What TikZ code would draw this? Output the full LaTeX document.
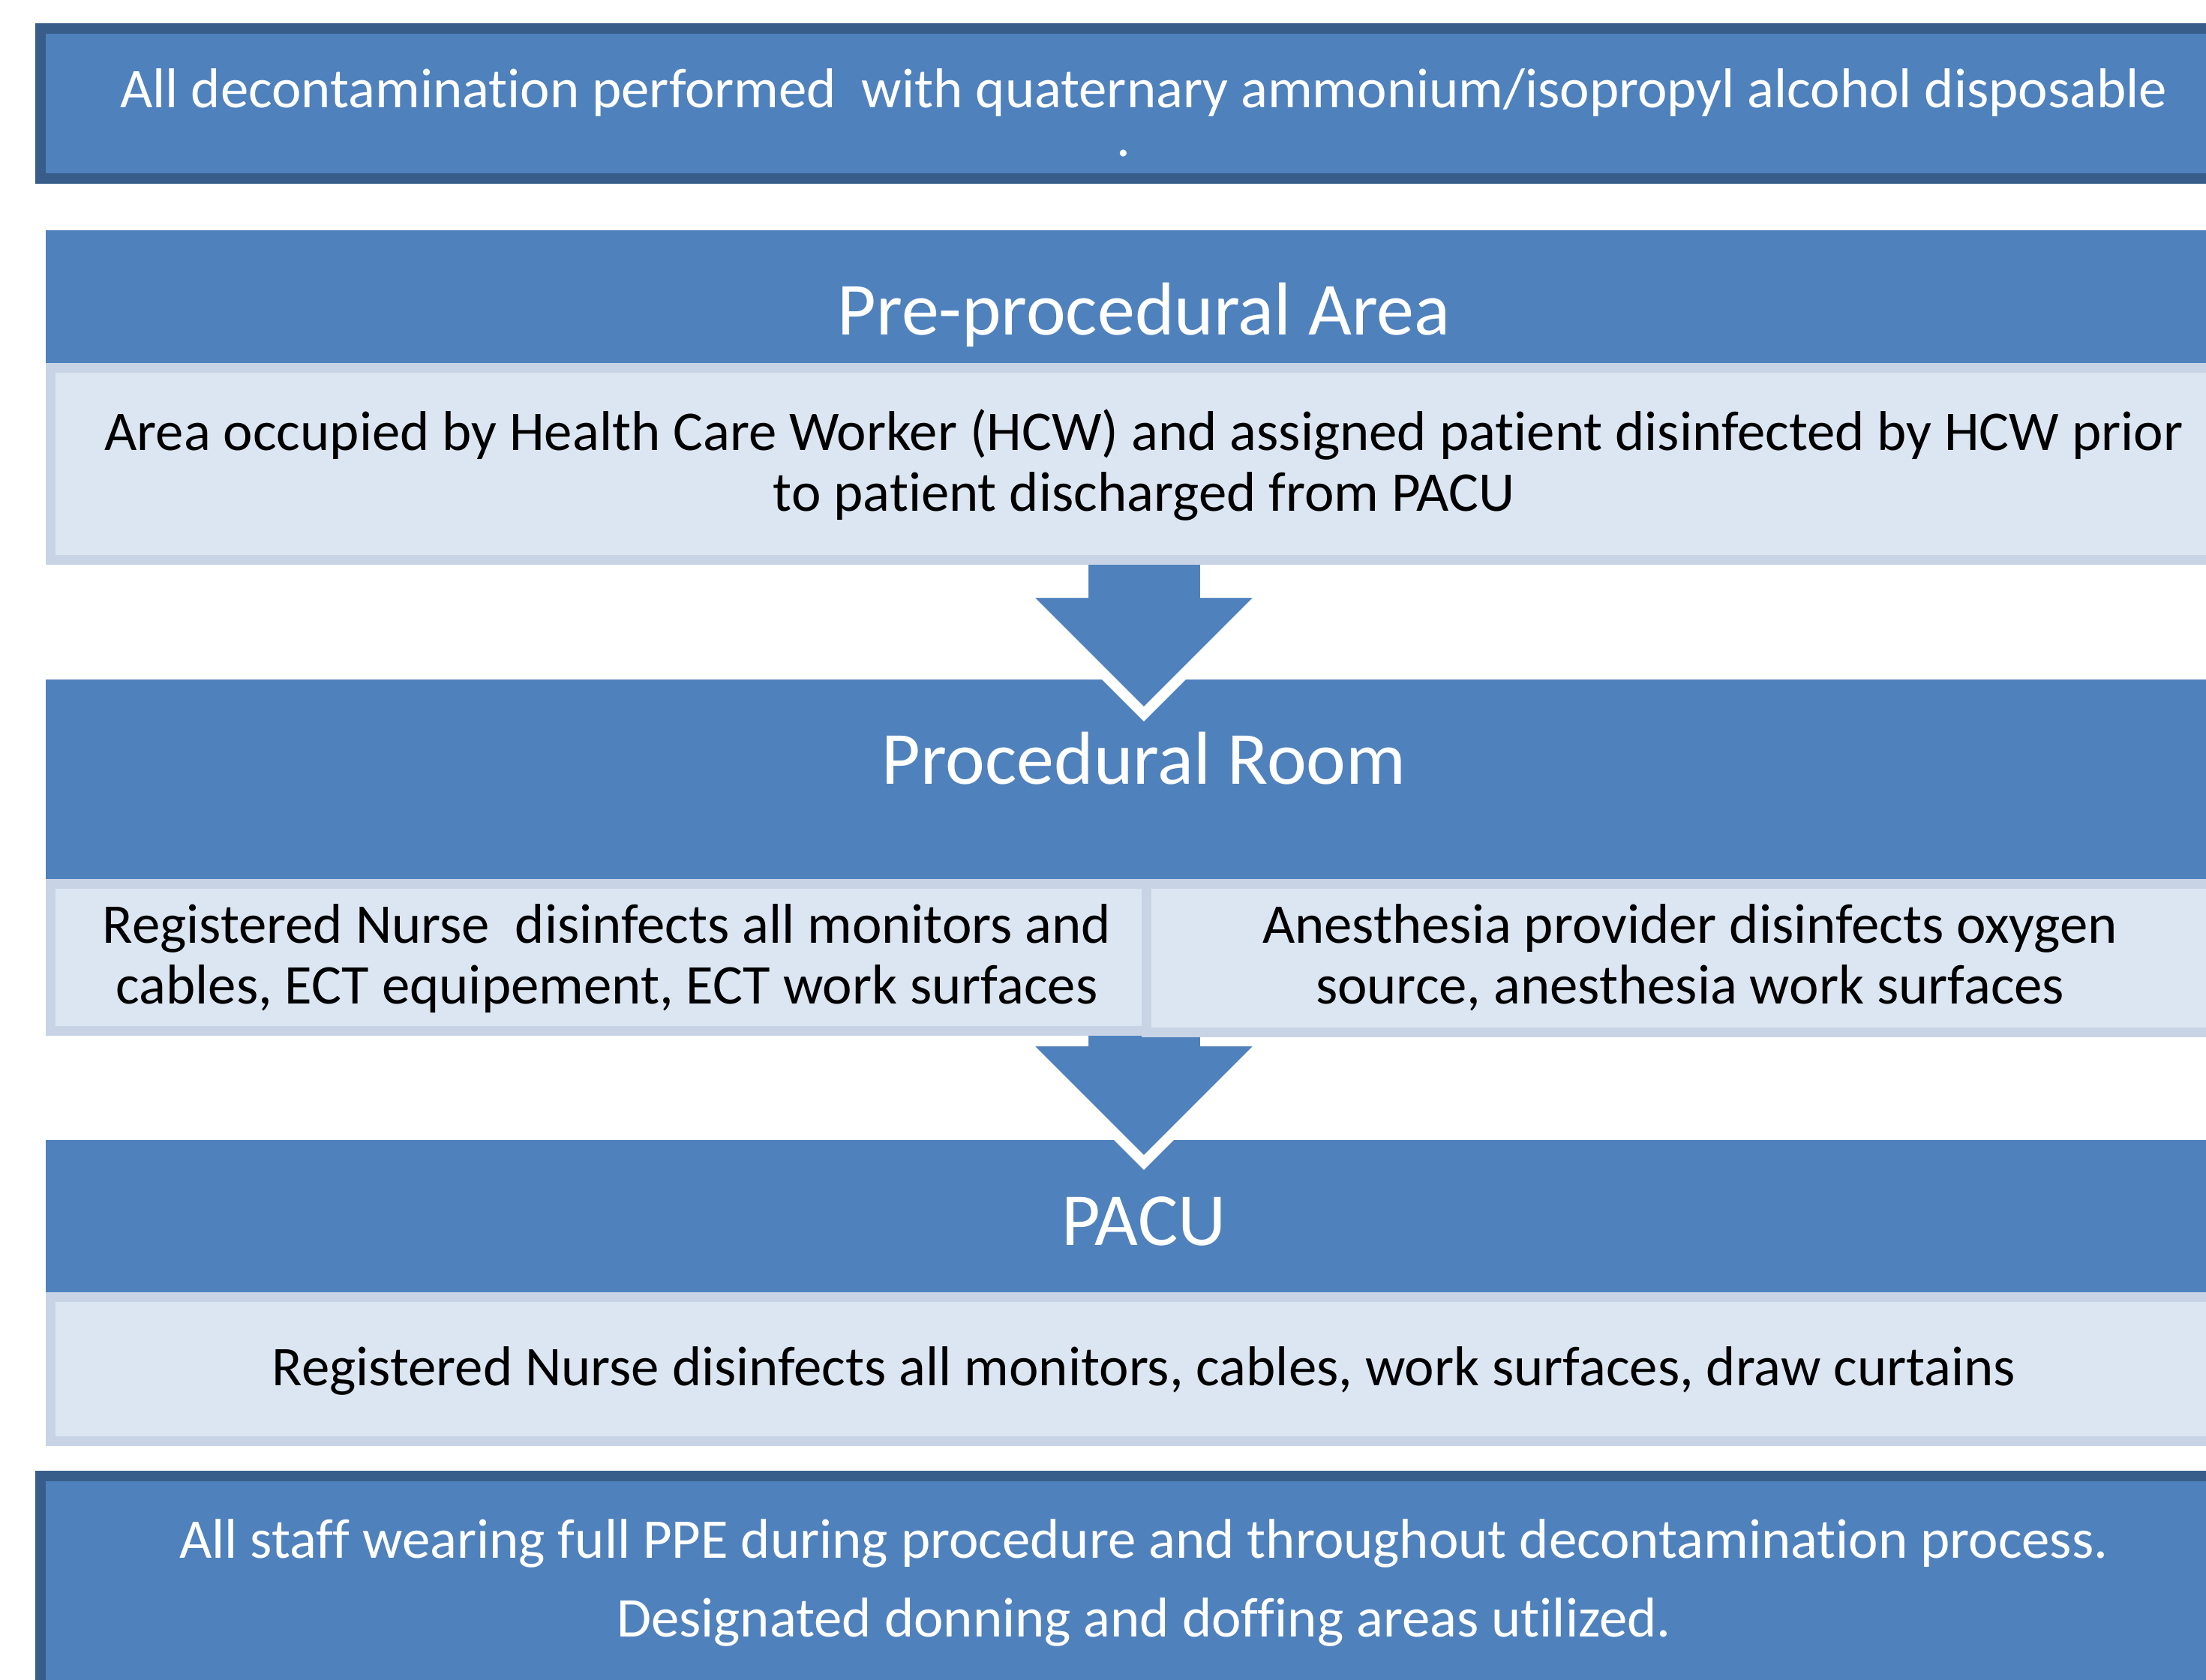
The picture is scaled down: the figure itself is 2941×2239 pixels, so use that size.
\documentclass[tikz,border=0pt]{standalone}
\usepackage{fontspec}
\setmainfont{Carlito}[Ligatures=NoCommon]
\definecolor{boxblue}{RGB}{79,129,189}
\definecolor{edgeblue}{RGB}{56,93,138}
\definecolor{paleblue}{RGB}{220,230,242}
\definecolor{paleedge}{RGB}{200,211,229}

\begin{document}
\begin{tikzpicture}[x=0.25pt,y=-0.25pt,
band/.style={fill=boxblue,draw=edgeblue,line width=3.5pt},
header/.style={fill=boxblue},
panel/.style={fill=paleblue,draw=paleedge,line width=3.25pt},
flow/.style={fill=boxblue,draw=white,line width=3.5pt},
note/.style={font=\fontsize{18.7}{20.25}\selectfont,align=center,anchor=base,inner sep=0pt},
title/.style={font=\fontsize{25}{30}\selectfont,white,anchor=base,inner sep=0pt}]
\useasboundingbox (0,0) rectangle (2941,2239);
\clip (0,0) rectangle (2941,2239);
% frames run on past the right and bottom edges of the page
\draw[band] (54,38) rectangle (3010,238);
\fill[header] (61,307) rectangle (2989,484);
\fill[header] (61,906) rectangle (2989,1172);
\fill[header] (61,1520) rectangle (2989,1723);
\draw[band] (54,1968) rectangle (3010,2400);
% block arrows, their shafts tucked under the panels above
\draw[flow] (1444,740) -- (1607,740) -- (1607,790) -- (1687,790) -- (1525,952)
  -- (1363,790) -- (1444,790) -- cycle;
\draw[flow] (1444,1368) -- (1607,1368) -- (1607,1388) -- (1687,1388) -- (1525,1550)
  -- (1363,1388) -- (1444,1388) -- cycle;
% panels
\draw[panel] (67.5,490.5) rectangle (2982.5,746.5);
\draw[panel] (67.5,1178.5) rectangle (1529.5,1374.5);
\draw[panel] (1528.5,1178.5) rectangle (2982.5,1376.5);
\draw[panel] (67.5,1729.5) rectangle (2982.5,1921.5);
% texts (base of a multi-line node = baseline of its last line)
\node[note,white] (wipes) at (1525,208)
  {All decontamination performed \ with quaternary ammonium/isopropyl alcohol disposable\\[-4pt]
   \hspace*{-13.5pt}.};
\node[title] (pre) at (1525,446) {Pre-procedural Area};
\node[note] (hcw) at (1525,681)
  {Area occupied by Health Care Worker (HCW) and assigned patient disinfected by HCW prior\\
   to patient discharged from PACU};
\node[title] (proc) at (1525,1045) {Procedural Room};
\node[note] (nurse) at (809,1338)
  {Registered Nurse \ disinfects all monitors and\\cables, ECT equipement, ECT work surfaces};
\node[note] (anes) at (2253,1338)
  {Anesthesia provider disinfects oxygen\\source, anesthesia work surfaces};
\node[title] (pacu) at (1525,1660) {PACU};
\node[note] (rn) at (1525,1847)
  {Registered Nurse disinfects all monitors, cables, work surfaces, draw curtains};
\node[note,white,font=\fontsize{18.7}{26.25}\selectfont] (staff) at (1525,2182)
  {All staff wearing full PPE during procedure and throughout decontamination process.\\
   Designated donning and doffing areas utilized.};
\end{tikzpicture}
\end{document}
